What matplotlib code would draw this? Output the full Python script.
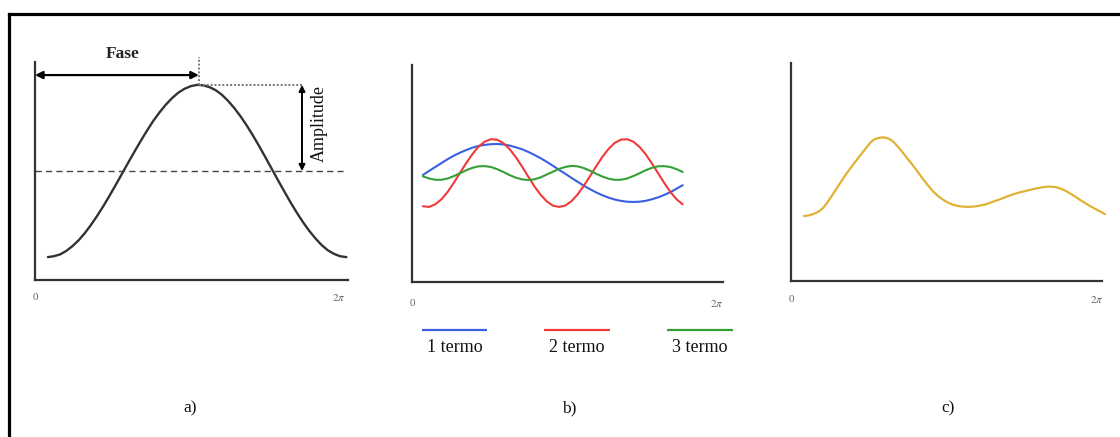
import numpy as np
import matplotlib
matplotlib.use("Agg")
import matplotlib.pyplot as plt
from matplotlib.lines import Line2D

plt.rcParams["font.family"] = ["Liberation Serif", "DejaVu Serif"]
plt.rcParams["mathtext.fontset"] = "stix"
plt.rcParams["lines.solid_joinstyle"] = "round"
plt.rcParams["lines.solid_capstyle"] = "round"

TWO_PI = 2 * np.pi

# ---------------- data ----------------
# a) single harmonic: one period of a raised cosine
wave_x = [0.26, 0.375, 0.5, 0.625, 0.75, 0.875, 1.0, 1.125, 1.25, 1.375, 1.5,
          1.625, 1.75, 1.875, 2.0, 2.125, 2.25, 2.375, 2.5, 2.625, 2.75, 2.875,
          3.0, 3.125, 3.25, 3.375, 3.5, 3.625, 3.75, 3.875, 4.0, 4.125, 4.25,
          4.375, 4.5, 4.625, 4.75, 4.875, 5.0, 5.125, 5.25, 5.375, 5.5, 5.625,
          5.75, 5.875, 6.0, 6.125, 6.25]
wave_y = [0.105, 0.109, 0.117, 0.133, 0.155, 0.182, 0.215, 0.253, 0.295, 0.340,
          0.388, 0.438, 0.489, 0.540, 0.590, 0.639, 0.686, 0.730, 0.769, 0.804,
          0.834, 0.859, 0.877, 0.889, 0.895, 0.893, 0.885, 0.871, 0.850, 0.822,
          0.789, 0.751, 0.709, 0.663, 0.614, 0.563, 0.511, 0.459, 0.408, 0.358,
          0.311, 0.267, 0.227, 0.192, 0.161, 0.137, 0.120, 0.109, 0.105]
mean_level = 0.5
peak_phase = 3.29
peak_value = 0.895

# b) first three harmonic terms
terms_x = np.linspace(0.22, 5.47, 43)
term1 = [0.493, 0.512, 0.530, 0.548, 0.566, 0.582, 0.596, 0.608, 0.619, 0.627,
         0.632, 0.635, 0.636, 0.634, 0.629, 0.621, 0.612, 0.600, 0.586, 0.571,
         0.554, 0.536, 0.517, 0.499, 0.480, 0.462, 0.444, 0.428, 0.413, 0.400,
         0.389, 0.380, 0.374, 0.370, 0.369, 0.370, 0.374, 0.381, 0.390, 0.401,
         0.414, 0.430, 0.446]
term2 = [0.349, 0.346, 0.358, 0.381, 0.415, 0.457, 0.503, 0.548, 0.589, 0.624,
         0.647, 0.658, 0.656, 0.640, 0.613, 0.576, 0.533, 0.487, 0.442, 0.403,
         0.372, 0.352, 0.346, 0.352, 0.372, 0.403, 0.443, 0.487, 0.533, 0.576,
         0.613, 0.641, 0.656, 0.658, 0.647, 0.623, 0.589, 0.547, 0.502, 0.457,
         0.415, 0.381, 0.358]
term3 = [0.487, 0.477, 0.471, 0.471, 0.477, 0.488, 0.501, 0.515, 0.526, 0.533,
         0.534, 0.530, 0.520, 0.507, 0.493, 0.481, 0.473, 0.470, 0.473, 0.482,
         0.495, 0.508, 0.521, 0.530, 0.535, 0.533, 0.525, 0.513, 0.499, 0.486,
         0.476, 0.471, 0.471, 0.477, 0.488, 0.501, 0.515, 0.526, 0.533, 0.534,
         0.530, 0.520, 0.507]
term_labels = ["1 termo", "2 termo", "3 termo"]
term_colors = ["#3a5fe0", "#f03a3a", "#34a036"]

# c) resulting periodic signal
sum_x = [0.263, 0.357, 0.451, 0.52, 0.586, 0.655, 0.721, 0.82, 0.923, 1.024,
         1.125, 1.226, 1.327, 1.428, 1.529, 1.596, 1.663, 1.730, 1.798, 1.865,
         1.933, 2.000, 2.067, 2.168, 2.269, 2.370, 2.471, 2.572, 2.673, 2.774,
         2.875, 2.976, 3.077, 3.178, 3.280, 3.381, 3.482, 3.583, 3.684, 3.818,
         3.953, 4.087, 4.222, 4.357, 4.492, 4.626, 4.761, 4.896, 5.031, 5.132,
         5.233, 5.334, 5.435, 5.536, 5.637, 5.738, 5.839, 5.940, 6.041, 6.192,
         6.344]
sum_y = [0.298, 0.301, 0.307, 0.314, 0.323, 0.337, 0.356, 0.389, 0.425, 0.460,
         0.494, 0.525, 0.555, 0.585, 0.613, 0.633, 0.647, 0.654, 0.657, 0.659,
         0.656, 0.650, 0.639, 0.614, 0.586, 0.557, 0.528, 0.497, 0.466, 0.437,
         0.410, 0.389, 0.372, 0.359, 0.349, 0.344, 0.341, 0.340, 0.341, 0.346,
         0.353, 0.364, 0.375, 0.387, 0.398, 0.407, 0.414, 0.422, 0.428, 0.432,
         0.433, 0.431, 0.425, 0.415, 0.402, 0.388, 0.372, 0.358, 0.344, 0.325,
         0.307]
sum_color = "#e0b234"

panel_labels = ["a)", "b)", "c)"]

# ---------------- figure ----------------
W, H = 1120, 437
fig = plt.figure(figsize=(W / 100, H / 100), dpi=100)


def make_axes(left, right, bottom, top):
    ax = fig.add_axes([left / W, 1 - bottom / H, (right - left) / W, (bottom - top) / H])
    ax.set_xlim(0, TWO_PI)
    ax.set_ylim(0, 1)
    for side in ("top", "right"):
        ax.spines[side].set_visible(False)
    for side in ("left", "bottom"):
        ax.spines[side].set_linewidth(1.6)
        ax.spines[side].set_color("#333333")
    ax.set_xticks([])
    ax.set_yticks([])
    ax.patch.set_alpha(0)
    return ax


def end_labels(ax, y, x_end):
    ax.text(0, y, "0", ha="center", va="center", fontsize=8, color="#666666")
    ax.text(x_end, y, r"$2\pi$", ha="center", va="center", fontsize=8, color="#666666")


# a)
ax_a = make_axes(35, 348, 280, 62)
ax_a.plot(wave_x, wave_y, color="#333333", lw=1.7)
ax_a.plot([0, 6.18], [mean_level, mean_level], color="#444444", lw=1.0,
          dashes=(4.5, 3), solid_capstyle="butt", dash_capstyle="butt", clip_on=False)
ax_a.plot([peak_phase, peak_phase], [peak_value, 1.025], color="#777777", lw=1.4,
          ls=(0, (1, 1)), dash_capstyle="butt", clip_on=False)
ax_a.plot([peak_phase, 5.36], [peak_value, peak_value], color="#777777", lw=1.4,
          ls=(0, (1, 1)), dash_capstyle="butt", clip_on=False)
ax_a.annotate("", xy=(peak_phase, 0.940), xytext=(0.0, 0.940),
              arrowprops=dict(arrowstyle="<|-|>", color="black", lw=1.6,
                              mutation_scale=11, shrinkA=0, shrinkB=0),
              annotation_clip=False)
ax_a.annotate("", xy=(5.36, peak_value), xytext=(5.36, mean_level),
              arrowprops=dict(arrowstyle="<|-|>", color="black", lw=1.4,
                              mutation_scale=9, shrinkA=0, shrinkB=0),
              annotation_clip=False)
ax_a.text(1.75, 1.037, "Fase", ha="center", va="center", fontsize=12.5,
          fontweight="bold", color="#222222")
ax_a.text(5.71, 0.72, "Amplitude", ha="center", va="center", rotation=90,
          fontsize=13, color="#111111")
end_labels(ax_a, -0.08, 6.10)

# b)
ax_b = make_axes(412, 723, 282, 65)
for values, color in zip([term1, term2, term3], term_colors):
    ax_b.plot(terms_x, values, color=color, lw=1.5)
end_labels(ax_b, -0.097, 6.16)
legend_spans = [(0.20, 1.52), (2.67, 4.00), (5.15, 6.49)]
for (x0, x1), color, label in zip(legend_spans, term_colors, term_labels):
    ax_b.plot([x0, x1], [-0.221, -0.221], color=color, lw=1.6, clip_on=False,
              solid_capstyle="butt")
    ax_b.text((x0 + x1) / 2, -0.304, label, ha="center", va="center",
              fontsize=13, color="#111111")

# c)
ax_c = make_axes(791, 1102, 281, 63)
ax_c.plot(sum_x, sum_y, color=sum_color, lw=1.6, clip_on=False)
end_labels(ax_c, -0.083, 6.18)

# panel captions
for label, px in zip(panel_labels, [190, 569, 948]):
    fig.text(px / W, 1 - 408 / H, label, ha="center", va="center", fontsize=12.5,
             color="#111111")

# outer frame (top and left edges)
fig.add_artist(Line2D([8.5 / W, 1.0], [1 - 14 / H, 1 - 14 / H], color="black",
                      lw=2.3, solid_capstyle="projecting", transform=fig.transFigure))
fig.add_artist(Line2D([8.5 / W, 8.5 / W], [0.0, 1 - 14 / H], color="black",
                      lw=2.3, solid_capstyle="projecting", transform=fig.transFigure))

fig.savefig("out.png", dpi=100)
